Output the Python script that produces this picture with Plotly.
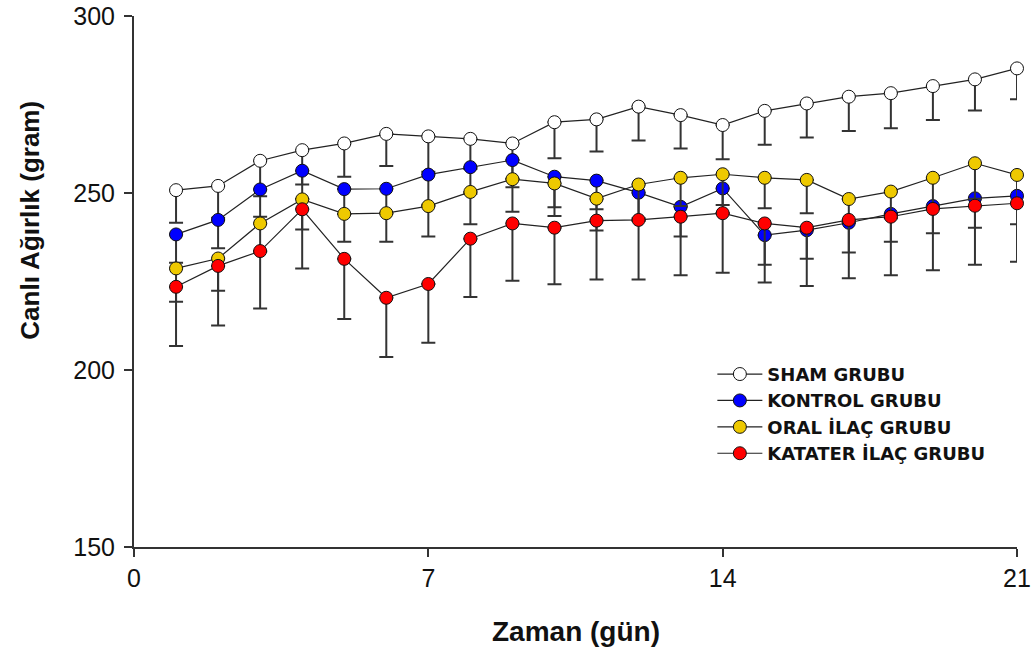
import plotly.graph_objects as go

days = list(range(1, 22))

sham = [250.8, 252.0, 259.1, 262.1, 264.0, 266.7, 266.0, 265.3, 264.0, 270.0, 270.8,
        274.4, 272.0, 269.2, 273.2, 275.3, 277.2, 278.2, 280.2, 282.1, 285.2]
sham_sd = [9.2, 9.0, 10.0, 9.7, 9.4, 9.1, 10.0, 8.5, 10.0, 10.2, 9.1,
           9.6, 9.4, 9.7, 9.6, 9.6, 9.7, 9.9, 9.6, 8.8, 8.7]

kontrol = [238.3, 242.4, 251.0, 256.3, 251.1, 251.2, 255.2, 257.3, 259.3, 254.6, 253.5,
           250.1, 246.1, 251.3, 238.1, 239.5, 241.6, 244.1, 246.3, 248.5, 249.2]
kontrol_sd = [8.0, 8.0, 7.7, 8.0, 7.0, 7.0, 8.5, 7.5, 7.7, 8.6, 8.1,
              8.0, 8.4, 7.0, 8.4, 8.1, 8.4, 7.9, 7.7, 8.3, 8.0]

oral = [228.7, 231.5, 241.4, 248.2, 244.1, 244.3, 246.3, 250.3, 253.9, 252.7, 248.4,
        252.4, 254.3, 255.3, 254.3, 253.7, 248.3, 250.4, 254.3, 258.4, 255.1]
oral_sd = [9.4, 9.1, 8.0, 8.5, 7.9, 8.1, 8.6, 9.1, 9.2, 9.2, 9.0,
           9.5, 8.0, 8.7, 8.6, 9.4, 6.5, 7.5, 8.0, 10.0, 8.0]

katater = [223.5, 229.4, 233.6, 245.4, 231.4, 220.4, 224.3, 237.1, 241.4, 240.2, 242.2,
           242.4, 243.3, 244.3, 241.4, 240.2, 242.4, 243.3, 245.5, 246.4, 247.1]
katater_sd = [16.7, 16.8, 16.2, 16.7, 17.0, 16.7, 16.6, 16.5, 16.2, 16.0, 16.6,
              16.8, 16.5, 16.8, 16.7, 16.5, 16.5, 16.5, 17.3, 16.7, 16.5]

series_names = ["SHAM GRUBU", "KONTROL GRUBU", "ORAL İLAÇ GRUBU", "KATATER İLAÇ GRUBU"]
series_colors = ["#FFFFFF", "#0000FF", "#EEC900", "#FF0000"]
x_ticks = [0, 7, 14, 21]
y_ticks = [150, 200, 250, 300]

fig = go.Figure()
for i, (vals, sds) in enumerate([(sham, sham_sd), (kontrol, kontrol_sd),
                                 (oral, oral_sd), (katater, katater_sd)]):
    fig.add_trace(go.Scatter(
        x=days, y=vals, name=series_names[i], mode="lines+markers",
        legendgroup=series_names[i],
        line=dict(color="#222222", width=1.2),
        marker=dict(size=13, color=series_colors[i], line=dict(color="#111111", width=1)),
        error_y=dict(type="data", symmetric=False, array=[0] * len(sds), arrayminus=sds,
                     color="#333333", thickness=2, width=7),
        cliponaxis=False,
    ))

fig.update_layout(
    width=1035, height=657,
    margin=dict(l=134, r=18, t=16, b=110, autoexpand=False),
    plot_bgcolor="white", paper_bgcolor="white",
    font=dict(family="Liberation Sans, Arial, sans-serif", color="#111111"),
    showlegend=True,
    legend=dict(
        x=0.655, y=0.36, xanchor="left", yanchor="top",
        traceorder="grouped", tracegroupgap=0, itemwidth=45,
        font=dict(family="DejaVu Sans, Verdana, sans-serif", size=18, color="#111111", weight="bold"),
        bgcolor="rgba(0,0,0,0)",
    ),
    xaxis=dict(
        range=[0, 21], tickvals=x_ticks, ticktext=[str(v) for v in x_ticks],
        showgrid=False, zeroline=False, showline=True, linecolor="#333333", linewidth=2,
        ticks="outside", ticklen=8, tickwidth=1.5, tickcolor="#333333", automargin=False,
        tickfont=dict(family="Liberation Sans Narrow, Arial Narrow, Liberation Sans, Arial", size=25),
    ),
    yaxis=dict(
        range=[150, 300], tickvals=y_ticks,
        showgrid=False, zeroline=False, showline=True, linecolor="#333333", linewidth=2,
        ticks="outside", ticklen=8, tickwidth=1.5, tickcolor="#333333", automargin=False,
        tickfont=dict(family="Liberation Sans, Arial", size=25),
        ticklabelstandoff=4,
    ),
    annotations=[
        dict(text="<b>Canlı Ağırlık (gram)</b>", xref="paper", yref="paper",
             x=-0.118, y=0.616, xanchor="center", yanchor="middle", textangle=-90,
             showarrow=False, font=dict(family="Liberation Sans, Arial", size=26, color="#111111")),
        dict(text="<b>Zaman (gün)</b>", xref="paper", yref="paper",
             x=0.5, y=-0.16, xanchor="center", yanchor="middle",
             showarrow=False, font=dict(family="Liberation Sans, Arial", size=28, color="#111111")),
    ],
)

# remove the browser's default 8px body margin so the figure fills the window exactly
fig.write_html("out.html", config={"displayModeBar": False},
               post_script="document.body.style.margin='0';document.body.style.overflow='hidden';")
